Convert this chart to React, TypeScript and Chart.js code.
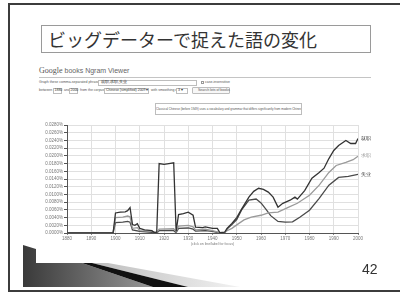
import React, { useEffect, useRef } from "react";
import { Chart, registerables } from "chart.js";

Chart.register(...registerables);

// ---- data ----
const seriesNames = ["就职", "求职", "失业"];
const seriesColors = ["#333333", "#9a9a9a", "#4a4a4a"];

const yearsA = [1880, 1899, 1900, 1902, 1904, 1905, 1906, 1907, 1908, 1909, 1910, 1912, 1915, 1916, 1917, 1918, 1920, 1922, 1924, 1925, 1926, 1928, 1930, 1932, 1933, 1936, 1937, 1940, 1942, 1943, 1945, 1946, 1948, 1950, 1952, 1955, 1957, 1959, 1961, 1963, 1965, 1967, 1969, 1972, 1974, 1975, 1978, 1981, 1984, 1986, 1988, 1990, 1992, 1995, 1997, 1999, 2000];
const valuesA = [0, 0, 0.0052, 0.0054, 0.0055, 0.0058, 0.0066, 0.0022, 0.002, 0.0024, 0.0012, 0.0008, 0.0006, 0.0001, 0.0002, 0.018, 0.0178, 0.018, 0.0182, 0.0004, 0.0048, 0.005, 0.0054, 0.0046, 0.0015, 0.0014, 0.0016, 0.0012, 0.0012, 0.0001, 0.0002, 0.0012, 0.0025, 0.004, 0.0062, 0.0093, 0.0108, 0.0116, 0.0113, 0.0106, 0.0093, 0.0067, 0.0077, 0.0085, 0.0093, 0.0088, 0.011, 0.0142, 0.0157, 0.0168, 0.0193, 0.0214, 0.0227, 0.024, 0.0232, 0.0232, 0.0245];

const yearsB = [1880, 1899, 1900, 1903, 1905, 1906, 1907, 1909, 1910, 1915, 1917, 1918, 1924, 1925, 1926, 1930, 1932, 1933, 1937, 1940, 1943, 1945, 1946, 1948, 1950, 1953, 1956, 1960, 1963, 1967, 1971, 1975, 1980, 1984, 1988, 1991, 1995, 1998, 2000];
const valuesB = [0, 0, 0.004, 0.0041, 0.0044, 0.0042, 0.0012, 0.0014, 0.0006, 0.0004, 0.0001, 0.001, 0.0011, 0.0003, 0.0018, 0.002, 0.0016, 0.0008, 0.001, 0.0006, 0.0001, 0.0001, 0.0006, 0.0012, 0.0021, 0.0034, 0.0041, 0.0046, 0.0052, 0.0054, 0.0066, 0.0077, 0.0098, 0.0124, 0.0157, 0.0175, 0.0183, 0.019, 0.0199];

const yearsC = [1880, 1899, 1900, 1903, 1905, 1906, 1907, 1910, 1915, 1917, 1918, 1924, 1925, 1926, 1930, 1932, 1933, 1937, 1940, 1943, 1945, 1946, 1948, 1950, 1952, 1955, 1958, 1960, 1962, 1964, 1967, 1970, 1973, 1976, 1980, 1984, 1988, 1992, 1996, 2000];
const valuesC = [0, 0, 0.0027, 0.0028, 0.003, 0.0028, 0.0008, 0.0004, 0.0002, 0, 0.0006, 0.0006, 0.0001, 0.0012, 0.0013, 0.001, 0.0005, 0.0006, 0.0004, 0, 0, 0.001, 0.0022, 0.0035, 0.006, 0.0085, 0.0088, 0.0078, 0.0062, 0.0045, 0.003, 0.0028, 0.0029, 0.0041, 0.0059, 0.009, 0.0124, 0.0144, 0.0147, 0.0152];

const xMin = 1880;
const xMax = 2000;
const xStep = 10;
const yMin = 0;
const yMax = 0.028;
const yStep = 0.002;

const toPoints = (xs: number[], ys: number[]) => xs.map((x, i) => ({ x, y: ys[i] }));

const endLabels = {
  id: "endLabels",
  afterDatasetsDraw(chart: any) {
    const ctx = chart.ctx;
    ctx.save();
    ctx.font = '4.5px "Liberation Sans", Arial, sans-serif';
    ctx.textBaseline = "middle";
    chart.data.datasets.forEach((ds: any, i: number) => {
      const meta = chart.getDatasetMeta(i);
      const pt = meta.data[meta.data.length - 1];
      if (!pt) return;
      ctx.fillStyle = ds.borderColor;
      ctx.fillText(ds.label, pt.x + 3, pt.y);
    });
    ctx.restore();
  },
};

function NgramChart() {
  const ref = useRef<HTMLCanvasElement | null>(null);
  useEffect(() => {
    if (!ref.current) return;
    const sets = [
      toPoints(yearsA, valuesA),
      toPoints(yearsB, valuesB),
      toPoints(yearsC, valuesC),
    ];
    const chart = new Chart(ref.current, {
      type: "line",
      data: {
        datasets: sets.map((d, i) => ({
          label: seriesNames[i],
          data: d,
          borderColor: seriesColors[i],
          backgroundColor: seriesColors[i],
          borderWidth: 1.3,
          pointRadius: 0,
          tension: 0,
          fill: false,
        })),
      },
      options: {
        animation: false,
        responsive: false,
        maintainAspectRatio: false,
        layout: { padding: { top: 7, right: 22, left: 0, bottom: 4 } },
        plugins: { legend: { display: false }, tooltip: { enabled: false } },
        scales: {
          x: {
            type: "linear",
            min: xMin,
            max: xMax,
            ticks: {
              stepSize: xStep,
              autoSkip: false,
              maxRotation: 0,
              padding: 1,
              color: "#777",
              font: { size: 4.5, family: '"Liberation Sans", Arial' },
              callback: (v: any) => String(v),
            },
            grid: { color: "#e0e0e0", tickLength: 2, tickColor: "#888" },
            border: { color: "#555", width: 1 },
            title: {
              display: true,
              text: "(click on line/label for focus)",
              color: "#777",
              font: { size: 3.5, family: '"Liberation Sans", Arial' },
              padding: { top: 1, bottom: 0 },
            },
            afterFit: (s: any) => {
              s.height = 13;
            },
          },
          y: {
            min: yMin,
            max: yMax,
            ticks: {
              stepSize: yStep,
              autoSkip: false,
              padding: 1,
              color: "#777",
              font: { size: 4.5, family: '"Liberation Sans", Arial' },
              callback: (v: any) => Number(v).toFixed(4) + "%",
            },
            grid: { color: "#e0e0e0", tickLength: 3, tickColor: "#555" },
            border: { color: "#555", width: 1 },
            afterFit: (s: any) => {
              s.width = 37;
            },
          },
        },
      },
      plugins: [endLabels],
    } as any);
    return () => chart.destroy();
  }, []);
  return (
    <canvas
      ref={ref}
      width={350}
      height={132}
      style={{ position: "absolute", left: 30, top: 118, width: 350, height: 132 }}
    />
  );
}

const tiny: React.CSSProperties = {
  position: "absolute",
  fontSize: 3.5,
  lineHeight: "5px",
  color: "#555",
  whiteSpace: "nowrap",
  fontFamily: '"Liberation Sans", Arial, sans-serif',
};

const box = (left: number, top: number, width: number, height: number): React.CSSProperties => ({
  position: "absolute",
  left,
  top,
  width,
  height,
  border: "1px solid #bdbdbd",
  boxSizing: "border-box",
  background: "#fff",
});

export default function App() {
  return (
    <div
      style={{
        position: "absolute",
        left: 0,
        top: 0,
        width: 400,
        height: 293,
        overflow: "hidden",
        background: "#fff",
        fontFamily: '"Liberation Sans", Arial, sans-serif',
      }}
    >
      {/* slide frame */}
      <div
        style={{
          position: "absolute",
          left: 8,
          top: 3,
          width: 420,
          height: 289,
          border: "2px solid #3c3c3c",
          boxSizing: "border-box",
        }}
      />
      {/* title */}
      <div
        style={{
          position: "absolute",
          left: 41,
          top: 25,
          width: 330,
          height: 28,
          border: "1px solid #9a9a9a",
          boxSizing: "border-box",
          paddingLeft: 6,
          fontSize: 18,
          lineHeight: "26px",
          color: "#333",
          fontFamily: '"Noto Sans CJK JP", sans-serif',
          whiteSpace: "nowrap",
        }}
      >
        ビッグデーターで捉えた語の変化
      </div>
      {/* Ngram header */}
      <div
        style={{
          position: "absolute",
          left: 39,
          top: 66,
          fontSize: 7,
          lineHeight: "9px",
          color: "#666",
          whiteSpace: "nowrap",
        }}
      >
        <span style={{ fontFamily: '"Liberation Serif", serif', fontSize: 8, color: "#555" }}>Google</span>
        <span> books Ngram Viewer</span>
      </div>
      <div style={{ position: "absolute", left: 39, top: 77, width: 332, height: 1, background: "#c4c4c4" }} />
      {/* row 1 */}
      <div style={{ ...tiny, left: 39, top: 80 }}>Graph these comma-separated phrases:</div>
      <div style={box(98, 79.5, 99, 6)} />
      <div style={{ ...tiny, left: 101, top: 80, color: "#333" }}>就职,求职,失业</div>
      <div style={{ ...box(201, 81, 3, 3), borderColor: "#999" }} />
      <div style={{ ...tiny, left: 205, top: 80 }}>case-insensitive</div>
      {/* row 2 */}
      <div style={{ ...tiny, left: 39, top: 88 }}>between</div>
      <div style={box(53, 87.5, 9, 6)} />
      <div style={{ ...tiny, left: 54.5, top: 88, color: "#333" }}>1880</div>
      <div style={{ ...tiny, left: 64, top: 88 }}>and</div>
      <div style={box(69, 87.5, 9, 6)} />
      <div style={{ ...tiny, left: 70.5, top: 88, color: "#333" }}>2000</div>
      <div style={{ ...tiny, left: 80, top: 88 }}>from the corpus</div>
      <div style={box(104, 87.5, 45, 6)} />
      <div style={{ ...tiny, left: 106, top: 88, color: "#333" }}>Chinese (simplified) 2009 ▾</div>
      <div style={{ ...tiny, left: 151, top: 88 }}>with smoothing of</div>
      <div style={box(176, 87.5, 12, 6)} />
      <div style={{ ...tiny, left: 178, top: 88, color: "#333" }}>3 ▾</div>
      <div style={{ ...box(192, 86.5, 38, 7), borderRadius: 1, background: "#f7f7f7" }} />
      <div style={{ ...tiny, left: 198, top: 88 }}>Search lots of books</div>
      {/* info box */}
      <div
        style={{
          ...box(155, 103, 147, 12),
          fontSize: 3,
          lineHeight: "10px",
          textAlign: "center",
          color: "#555",
          whiteSpace: "nowrap",
          overflow: "hidden",
        }}
      >
        Classical Chinese (before 1949) uses a vocabulary and grammar that differs significantly from modern Chinese.
      </div>

      <NgramChart />

      {/* bottom decoration */}
      <svg
        width={400}
        height={293}
        style={{ position: "absolute", left: 0, top: 0 }}
      >
        <defs>
          <linearGradient id="g1" x1="23" y1="0" x2="160" y2="0" gradientUnits="userSpaceOnUse">
            <stop offset="0" stopColor="#3a3a3a" />
            <stop offset="0.5" stopColor="#6a6a6a" />
            <stop offset="1" stopColor="#9c9c9c" />
          </linearGradient>
          <linearGradient id="g2" x1="92" y1="0" x2="240" y2="0" gradientUnits="userSpaceOnUse">
            <stop offset="0" stopColor="#bdbdbd" />
            <stop offset="1" stopColor="#f2f2f2" />
          </linearGradient>
        </defs>
        <polygon points="23,245 36,249 36,263 82,263 153,287 23,287" fill="url(#g1)" />
        <polygon points="92,263 108,263 240,287 188,287" fill="url(#g2)" />
        <polygon points="82,263 92,263 188,287 153,287" fill="#111" />
      </svg>
      <div
        style={{
          position: "absolute",
          left: 362,
          top: 261,
          fontSize: 14,
          lineHeight: "16px",
          color: "#333",
        }}
      >
        42
      </div>
    </div>
  );
}
